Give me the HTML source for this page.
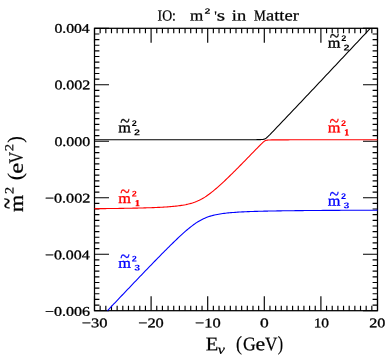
<!DOCTYPE html>
<html><head><meta charset="utf-8"><title>IO: m2's in Matter</title>
<style>html,body{margin:0;padding:0;background:#fff}#c{filter:blur(0.3px);position:relative;width:391px;height:358px;overflow:hidden;background:#fff}
#tx{position:absolute;left:0;top:0;width:391px;height:358px;will-change:transform}
.t{position:absolute;left:0;top:0;white-space:nowrap;line-height:1;transform-origin:0 0}</style>
</head><body><div id="c">
<svg width="391" height="358" viewBox="0 0 391 358" style="position:absolute;left:0;top:0">
<rect x="94.5" y="28.3" width="283.0" height="282.40" fill="none" stroke="#000" stroke-width="1.25"/>
<path d="M94.50 310.70V296.20M94.50 28.30V42.80M100.16 310.70V305.80M100.16 28.30V33.20M105.82 310.70V305.80M105.82 28.30V33.20M111.48 310.70V305.80M111.48 28.30V33.20M117.14 310.70V305.80M117.14 28.30V33.20M122.80 310.70V305.80M122.80 28.30V33.20M128.46 310.70V305.80M128.46 28.30V33.20M134.12 310.70V305.80M134.12 28.30V33.20M139.78 310.70V305.80M139.78 28.30V33.20M145.44 310.70V305.80M145.44 28.30V33.20M151.10 310.70V296.20M151.10 28.30V42.80M156.76 310.70V305.80M156.76 28.30V33.20M162.42 310.70V305.80M162.42 28.30V33.20M168.08 310.70V305.80M168.08 28.30V33.20M173.74 310.70V305.80M173.74 28.30V33.20M179.40 310.70V305.80M179.40 28.30V33.20M185.06 310.70V305.80M185.06 28.30V33.20M190.72 310.70V305.80M190.72 28.30V33.20M196.38 310.70V305.80M196.38 28.30V33.20M202.04 310.70V305.80M202.04 28.30V33.20M207.70 310.70V296.20M207.70 28.30V42.80M213.36 310.70V305.80M213.36 28.30V33.20M219.02 310.70V305.80M219.02 28.30V33.20M224.68 310.70V305.80M224.68 28.30V33.20M230.34 310.70V305.80M230.34 28.30V33.20M236.00 310.70V305.80M236.00 28.30V33.20M241.66 310.70V305.80M241.66 28.30V33.20M247.32 310.70V305.80M247.32 28.30V33.20M252.98 310.70V305.80M252.98 28.30V33.20M258.64 310.70V305.80M258.64 28.30V33.20M264.30 310.70V296.20M264.30 28.30V42.80M269.96 310.70V305.80M269.96 28.30V33.20M275.62 310.70V305.80M275.62 28.30V33.20M281.28 310.70V305.80M281.28 28.30V33.20M286.94 310.70V305.80M286.94 28.30V33.20M292.60 310.70V305.80M292.60 28.30V33.20M298.26 310.70V305.80M298.26 28.30V33.20M303.92 310.70V305.80M303.92 28.30V33.20M309.58 310.70V305.80M309.58 28.30V33.20M315.24 310.70V305.80M315.24 28.30V33.20M320.90 310.70V296.20M320.90 28.30V42.80M326.56 310.70V305.80M326.56 28.30V33.20M332.22 310.70V305.80M332.22 28.30V33.20M337.88 310.70V305.80M337.88 28.30V33.20M343.54 310.70V305.80M343.54 28.30V33.20M349.20 310.70V305.80M349.20 28.30V33.20M354.86 310.70V305.80M354.86 28.30V33.20M360.52 310.70V305.80M360.52 28.30V33.20M366.18 310.70V305.80M366.18 28.30V33.20M371.84 310.70V305.80M371.84 28.30V33.20M377.50 310.70V296.20M377.50 28.30V42.80M94.50 28.30H109.00M377.50 28.30H363.00M94.50 33.95H99.40M377.50 33.95H372.60M94.50 39.60H99.40M377.50 39.60H372.60M94.50 45.24H99.40M377.50 45.24H372.60M94.50 50.89H99.40M377.50 50.89H372.60M94.50 56.54H99.40M377.50 56.54H372.60M94.50 62.19H99.40M377.50 62.19H372.60M94.50 67.84H99.40M377.50 67.84H372.60M94.50 73.48H99.40M377.50 73.48H372.60M94.50 79.13H99.40M377.50 79.13H372.60M94.50 84.78H109.00M377.50 84.78H363.00M94.50 90.43H99.40M377.50 90.43H372.60M94.50 96.08H99.40M377.50 96.08H372.60M94.50 101.72H99.40M377.50 101.72H372.60M94.50 107.37H99.40M377.50 107.37H372.60M94.50 113.02H99.40M377.50 113.02H372.60M94.50 118.67H99.40M377.50 118.67H372.60M94.50 124.32H99.40M377.50 124.32H372.60M94.50 129.96H99.40M377.50 129.96H372.60M94.50 135.61H99.40M377.50 135.61H372.60M94.50 141.26H109.00M377.50 141.26H363.00M94.50 146.91H99.40M377.50 146.91H372.60M94.50 152.56H99.40M377.50 152.56H372.60M94.50 158.20H99.40M377.50 158.20H372.60M94.50 163.85H99.40M377.50 163.85H372.60M94.50 169.50H99.40M377.50 169.50H372.60M94.50 175.15H99.40M377.50 175.15H372.60M94.50 180.80H99.40M377.50 180.80H372.60M94.50 186.44H99.40M377.50 186.44H372.60M94.50 192.09H99.40M377.50 192.09H372.60M94.50 197.74H109.00M377.50 197.74H363.00M94.50 203.39H99.40M377.50 203.39H372.60M94.50 209.04H99.40M377.50 209.04H372.60M94.50 214.68H99.40M377.50 214.68H372.60M94.50 220.33H99.40M377.50 220.33H372.60M94.50 225.98H99.40M377.50 225.98H372.60M94.50 231.63H99.40M377.50 231.63H372.60M94.50 237.28H99.40M377.50 237.28H372.60M94.50 242.92H99.40M377.50 242.92H372.60M94.50 248.57H99.40M377.50 248.57H372.60M94.50 254.22H109.00M377.50 254.22H363.00M94.50 259.87H99.40M377.50 259.87H372.60M94.50 265.52H99.40M377.50 265.52H372.60M94.50 271.16H99.40M377.50 271.16H372.60M94.50 276.81H99.40M377.50 276.81H372.60M94.50 282.46H99.40M377.50 282.46H372.60M94.50 288.11H99.40M377.50 288.11H372.60M94.50 293.76H99.40M377.50 293.76H372.60M94.50 299.40H99.40M377.50 299.40H372.60M94.50 305.05H99.40M377.50 305.05H372.60M94.50 310.70H109.00M377.50 310.70H363.00" fill="none" stroke="#000" stroke-width="1.15"/>
<path d="M94.50 139.78 L95.88 139.78 L97.26 139.78 L98.64 139.78 L100.02 139.78 L101.40 139.78 L102.78 139.78 L104.16 139.78 L105.53 139.78 L106.91 139.78 L108.29 139.78 L109.67 139.78 L111.05 139.78 L112.43 139.78 L113.81 139.78 L115.19 139.78 L116.57 139.78 L117.95 139.78 L119.33 139.78 L120.71 139.78 L122.09 139.78 L123.47 139.78 L124.85 139.78 L126.22 139.78 L127.60 139.78 L128.98 139.78 L130.36 139.78 L131.74 139.78 L133.12 139.78 L134.50 139.78 L135.88 139.78 L137.26 139.78 L138.64 139.78 L140.02 139.78 L141.40 139.78 L142.78 139.78 L144.16 139.78 L145.54 139.78 L146.91 139.78 L148.29 139.78 L149.67 139.78 L151.05 139.78 L152.43 139.78 L153.81 139.78 L155.19 139.78 L156.57 139.78 L157.95 139.78 L159.33 139.78 L160.71 139.78 L162.09 139.78 L163.47 139.78 L164.85 139.78 L166.23 139.78 L167.60 139.78 L168.98 139.78 L170.36 139.78 L171.74 139.78 L173.12 139.78 L174.50 139.78 L175.88 139.78 L177.26 139.78 L178.64 139.78 L180.02 139.78 L181.40 139.78 L182.78 139.78 L184.16 139.78 L185.54 139.78 L186.91 139.78 L188.29 139.78 L189.67 139.78 L191.05 139.78 L192.43 139.78 L193.81 139.77 L195.19 139.77 L196.57 139.77 L197.95 139.77 L199.33 139.77 L200.71 139.77 L202.09 139.77 L203.47 139.77 L204.85 139.77 L206.23 139.77 L207.60 139.77 L208.98 139.77 L210.36 139.77 L211.74 139.77 L213.12 139.77 L214.50 139.77 L215.88 139.77 L217.26 139.77 L218.64 139.77 L220.02 139.77 L221.40 139.77 L222.78 139.77 L224.16 139.77 L225.54 139.76 L226.92 139.76 L228.29 139.76 L229.67 139.76 L231.05 139.76 L232.43 139.76 L233.81 139.76 L235.19 139.76 L236.57 139.76 L237.95 139.75 L239.33 139.75 L240.71 139.75 L242.09 139.75 L243.47 139.75 L244.85 139.74 L246.23 139.74 L247.61 139.74 L248.98 139.73 L250.36 139.73 L251.74 139.72 L253.12 139.71 L254.50 139.70 L255.88 139.69 L257.26 139.67 L258.64 139.65 L258.78 139.65 L258.92 139.64 L259.06 139.64 L259.21 139.64 L259.35 139.63 L259.49 139.63 L259.63 139.63 L259.77 139.62 L259.91 139.62 L260.05 139.61 L260.20 139.61 L260.34 139.60 L260.48 139.60 L260.62 139.59 L260.76 139.59 L260.90 139.58 L261.05 139.57 L261.19 139.57 L261.33 139.56 L261.47 139.55 L261.61 139.54 L261.75 139.53 L261.89 139.52 L262.04 139.51 L262.18 139.50 L262.32 139.49 L262.46 139.48 L262.60 139.46 L262.74 139.45 L262.88 139.43 L263.03 139.41 L263.17 139.39 L263.31 139.37 L263.45 139.35 L263.59 139.32 L263.73 139.29 L263.88 139.26 L264.02 139.22 L264.16 139.18 L264.30 139.14 L264.44 139.09 L264.58 139.04 L264.72 138.99 L264.87 138.92 L265.01 138.86 L265.15 138.78 L265.29 138.70 L265.43 138.62 L265.57 138.53 L265.72 138.43 L265.86 138.33 L266.00 138.23 L266.14 138.12 L266.28 138.01 L266.42 137.89 L266.56 137.78 L266.71 137.65 L266.85 137.53 L266.99 137.40 L267.13 137.28 L267.27 137.15 L267.41 137.02 L267.55 136.88 L267.70 136.75 L267.84 136.62 L267.98 136.48 L268.12 136.34 L268.26 136.21 L268.40 136.07 L268.54 135.93 L268.69 135.79 L268.83 135.65 L268.97 135.51 L269.11 135.37 L269.25 135.23 L269.39 135.08 L269.54 134.94 L269.68 134.80 L269.82 134.66 L269.96 134.51 L271.78 132.65 L273.61 130.76 L275.43 128.87 L277.25 126.97 L279.07 125.06 L280.90 123.15 L282.72 121.23 L284.54 119.32 L286.36 117.40 L288.19 115.48 L290.01 113.56 L291.83 111.64 L293.66 109.72 L295.48 107.79 L297.30 105.87 L299.12 103.94 L300.95 102.01 L302.77 100.09 L304.59 98.16 L306.41 96.23 L308.24 94.30 L310.06 92.37 L311.88 90.44 L313.71 88.51 L315.53 86.58 L317.35 84.64 L319.17 82.71 L321.00 80.78 L322.82 78.85 L324.64 76.91 L326.46 74.98 L328.29 73.04 L330.11 71.11 L331.93 69.17 L333.75 67.24 L335.58 65.30 L337.40 63.37 L339.22 61.43 L341.05 59.49 L342.87 57.56 L344.69 55.62 L346.51 53.68 L348.34 51.74 L350.16 49.81 L351.98 47.87 L353.80 45.93 L355.63 43.99 L357.45 42.05 L359.27 40.11 L361.10 38.18 L362.92 36.24 L364.74 34.30 L366.56 32.36 L368.39 30.42 L370.21 28.48 L370.38 28.30" fill="none" stroke="#000000" stroke-width="1.1" stroke-linejoin="round"/>
<path d="M94.50 208.68 L95.88 208.67 L97.26 208.66 L98.64 208.64 L100.02 208.63 L101.40 208.62 L102.78 208.60 L104.16 208.59 L105.53 208.58 L106.91 208.56 L108.29 208.55 L109.67 208.53 L111.05 208.51 L112.43 208.50 L113.81 208.48 L115.19 208.46 L116.57 208.44 L117.95 208.43 L119.33 208.41 L120.71 208.39 L122.09 208.37 L123.47 208.34 L124.85 208.32 L126.22 208.30 L127.60 208.28 L128.98 208.25 L130.36 208.23 L131.74 208.20 L133.12 208.17 L134.50 208.14 L135.88 208.11 L137.26 208.08 L138.64 208.05 L140.02 208.02 L141.40 207.98 L142.78 207.94 L144.16 207.91 L145.54 207.87 L146.91 207.82 L148.29 207.78 L149.67 207.73 L151.05 207.69 L152.43 207.64 L153.81 207.58 L155.19 207.53 L156.57 207.47 L157.95 207.40 L159.33 207.34 L160.71 207.27 L162.09 207.19 L163.47 207.12 L164.85 207.03 L166.23 206.94 L167.60 206.85 L168.98 206.75 L170.36 206.64 L171.74 206.52 L173.12 206.39 L174.50 206.26 L175.88 206.11 L177.26 205.95 L178.64 205.78 L180.02 205.60 L181.40 205.40 L182.78 205.18 L184.16 204.94 L185.54 204.68 L186.91 204.39 L188.29 204.08 L189.67 203.73 L191.05 203.35 L192.43 202.94 L193.81 202.48 L195.19 201.99 L196.57 201.44 L197.95 200.85 L199.33 200.21 L200.71 199.52 L202.09 198.77 L203.47 197.97 L204.85 197.12 L206.23 196.22 L207.60 195.28 L208.98 194.29 L210.36 193.25 L211.74 192.18 L213.12 191.07 L214.50 189.93 L215.88 188.77 L217.26 187.57 L218.64 186.35 L220.02 185.11 L221.40 183.85 L222.78 182.58 L224.16 181.28 L225.54 179.98 L226.92 178.66 L228.29 177.33 L229.67 175.99 L231.05 174.64 L232.43 173.28 L233.81 171.92 L235.19 170.54 L236.57 169.16 L237.95 167.78 L239.33 166.39 L240.71 165.00 L242.09 163.60 L243.47 162.20 L244.85 160.79 L246.23 159.39 L247.61 157.97 L248.98 156.56 L250.36 155.15 L251.74 153.73 L253.12 152.31 L254.50 150.89 L255.88 149.48 L257.26 148.06 L258.64 146.65 L258.78 146.51 L258.92 146.36 L259.06 146.22 L259.21 146.08 L259.35 145.93 L259.49 145.79 L259.63 145.64 L259.77 145.50 L259.91 145.36 L260.05 145.22 L260.20 145.07 L260.34 144.93 L260.48 144.79 L260.62 144.65 L260.76 144.51 L260.90 144.36 L261.05 144.22 L261.19 144.08 L261.33 143.94 L261.47 143.80 L261.61 143.66 L261.75 143.53 L261.89 143.39 L262.04 143.25 L262.18 143.11 L262.32 142.98 L262.46 142.84 L262.60 142.71 L262.74 142.58 L262.88 142.45 L263.03 142.32 L263.17 142.19 L263.31 142.07 L263.45 141.94 L263.59 141.82 L263.73 141.70 L263.88 141.59 L264.02 141.47 L264.16 141.36 L264.30 141.26 L264.44 141.16 L264.58 141.06 L264.72 140.97 L264.87 140.89 L265.01 140.81 L265.15 140.73 L265.29 140.66 L265.43 140.60 L265.57 140.54 L265.72 140.49 L265.86 140.44 L266.00 140.40 L266.14 140.36 L266.28 140.32 L266.42 140.29 L266.56 140.26 L266.71 140.23 L266.85 140.21 L266.99 140.19 L267.13 140.17 L267.27 140.15 L267.41 140.13 L267.55 140.12 L267.70 140.10 L267.84 140.09 L267.98 140.08 L268.12 140.06 L268.26 140.05 L268.40 140.04 L268.54 140.03 L268.69 140.03 L268.83 140.02 L268.97 140.01 L269.11 140.00 L269.25 140.00 L269.39 139.99 L269.54 139.98 L269.68 139.98 L269.82 139.97 L269.96 139.97 L271.78 139.92 L273.61 139.89 L275.43 139.88 L277.25 139.86 L279.07 139.85 L280.90 139.85 L282.72 139.84 L284.54 139.83 L286.36 139.83 L288.19 139.83 L290.01 139.82 L291.83 139.82 L293.66 139.82 L295.48 139.82 L297.30 139.82 L299.12 139.81 L300.95 139.81 L302.77 139.81 L304.59 139.81 L306.41 139.81 L308.24 139.81 L310.06 139.81 L311.88 139.81 L313.71 139.81 L315.53 139.81 L317.35 139.81 L319.17 139.80 L321.00 139.80 L322.82 139.80 L324.64 139.80 L326.46 139.80 L328.29 139.80 L330.11 139.80 L331.93 139.80 L333.75 139.80 L335.58 139.80 L337.40 139.80 L339.22 139.80 L341.05 139.80 L342.87 139.80 L344.69 139.80 L346.51 139.80 L348.34 139.80 L350.16 139.80 L351.98 139.80 L353.80 139.80 L355.63 139.80 L357.45 139.80 L359.27 139.80 L361.10 139.80 L362.92 139.80 L364.74 139.80 L366.56 139.80 L368.39 139.80 L370.21 139.80 L372.03 139.80 L373.85 139.80 L375.68 139.80 L377.50 139.80" fill="none" stroke="#ff0000" stroke-width="1.1" stroke-linejoin="round"/>
<path d="M107.44 310.70 L108.29 309.80 L109.67 308.34 L111.05 306.89 L112.43 305.43 L113.81 303.98 L115.19 302.52 L116.57 301.07 L117.95 299.61 L119.33 298.16 L120.71 296.71 L122.09 295.25 L123.47 293.80 L124.85 292.35 L126.22 290.90 L127.60 289.45 L128.98 288.01 L130.36 286.56 L131.74 285.11 L133.12 283.67 L134.50 282.22 L135.88 280.78 L137.26 279.34 L138.64 277.90 L140.02 276.46 L141.40 275.02 L142.78 273.59 L144.16 272.15 L145.54 270.72 L146.91 269.29 L148.29 267.86 L149.67 266.43 L151.05 265.01 L152.43 263.59 L153.81 262.17 L155.19 260.75 L156.57 259.34 L157.95 257.93 L159.33 256.52 L160.71 255.12 L162.09 253.72 L163.47 252.32 L164.85 250.94 L166.23 249.55 L167.60 248.18 L168.98 246.80 L170.36 245.44 L171.74 244.09 L173.12 242.74 L174.50 241.40 L175.88 240.07 L177.26 238.76 L178.64 237.46 L180.02 236.17 L181.40 234.90 L182.78 233.65 L184.16 232.41 L185.54 231.20 L186.91 230.02 L188.29 228.86 L189.67 227.73 L191.05 226.64 L192.43 225.58 L193.81 224.56 L195.19 223.58 L196.57 222.65 L197.95 221.77 L199.33 220.94 L200.71 220.16 L202.09 219.44 L203.47 218.76 L204.85 218.14 L206.23 217.57 L207.60 217.04 L208.98 216.56 L210.36 216.12 L211.74 215.72 L213.12 215.36 L214.50 215.02 L215.88 214.72 L217.26 214.44 L218.64 214.19 L220.02 213.96 L221.40 213.74 L222.78 213.55 L224.16 213.37 L225.54 213.20 L226.92 213.05 L228.29 212.91 L229.67 212.78 L231.05 212.65 L232.43 212.54 L233.81 212.43 L235.19 212.34 L236.57 212.24 L237.95 212.16 L239.33 212.07 L240.71 212.00 L242.09 211.92 L243.47 211.86 L244.85 211.79 L246.23 211.73 L247.61 211.67 L248.98 211.62 L250.36 211.56 L251.74 211.51 L253.12 211.47 L254.50 211.42 L255.88 211.38 L257.26 211.34 L258.64 211.30 L258.78 211.29 L258.92 211.29 L259.06 211.29 L259.21 211.28 L259.35 211.28 L259.49 211.28 L259.63 211.27 L259.77 211.27 L259.91 211.26 L260.05 211.26 L260.20 211.26 L260.34 211.25 L260.48 211.25 L260.62 211.24 L260.76 211.24 L260.90 211.24 L261.05 211.23 L261.19 211.23 L261.33 211.23 L261.47 211.22 L261.61 211.22 L261.75 211.22 L261.89 211.21 L262.04 211.21 L262.18 211.21 L262.32 211.20 L262.46 211.20 L262.60 211.19 L262.74 211.19 L262.88 211.19 L263.03 211.18 L263.17 211.18 L263.31 211.18 L263.45 211.17 L263.59 211.17 L263.73 211.17 L263.88 211.16 L264.02 211.16 L264.16 211.16 L264.30 211.15 L264.44 211.15 L264.58 211.15 L264.72 211.14 L264.87 211.14 L265.01 211.14 L265.15 211.13 L265.29 211.13 L265.43 211.13 L265.57 211.12 L265.72 211.12 L265.86 211.12 L266.00 211.12 L266.14 211.11 L266.28 211.11 L266.42 211.11 L266.56 211.10 L266.71 211.10 L266.85 211.10 L266.99 211.09 L267.13 211.09 L267.27 211.09 L267.41 211.08 L267.55 211.08 L267.70 211.08 L267.84 211.08 L267.98 211.07 L268.12 211.07 L268.26 211.07 L268.40 211.06 L268.54 211.06 L268.69 211.06 L268.83 211.05 L268.97 211.05 L269.11 211.05 L269.25 211.05 L269.39 211.04 L269.54 211.04 L269.68 211.04 L269.82 211.03 L269.96 211.03 L271.78 211.00 L273.61 210.96 L275.43 210.93 L277.25 210.90 L279.07 210.87 L280.90 210.84 L282.72 210.82 L284.54 210.79 L286.36 210.77 L288.19 210.74 L290.01 210.72 L291.83 210.70 L293.66 210.68 L295.48 210.66 L297.30 210.64 L299.12 210.62 L300.95 210.60 L302.77 210.58 L304.59 210.57 L306.41 210.55 L308.24 210.53 L310.06 210.52 L311.88 210.50 L313.71 210.49 L315.53 210.48 L317.35 210.46 L319.17 210.45 L321.00 210.44 L322.82 210.42 L324.64 210.41 L326.46 210.40 L328.29 210.39 L330.11 210.38 L331.93 210.37 L333.75 210.36 L335.58 210.35 L337.40 210.34 L339.22 210.33 L341.05 210.32 L342.87 210.31 L344.69 210.30 L346.51 210.29 L348.34 210.28 L350.16 210.28 L351.98 210.27 L353.80 210.26 L355.63 210.25 L357.45 210.25 L359.27 210.24 L361.10 210.23 L362.92 210.22 L364.74 210.22 L366.56 210.21 L368.39 210.20 L370.21 210.20 L372.03 210.19 L373.85 210.19 L375.68 210.18 L377.50 210.17" fill="none" stroke="#0000ff" stroke-width="1.1" stroke-linejoin="round"/>
</svg>
<div id="tx">
<div class="t" style='font-family:"Liberation Serif",serif;font-size:13.2px;color:#000000;transform:translate(54.40px,21.75px) rotate(0.05deg) scale(1.190,1);-webkit-text-stroke:0.3px #000000;'>0.004</div>
<div class="t" style='font-family:"Liberation Serif",serif;font-size:13.2px;color:#000000;transform:translate(54.39px,78.35px) rotate(0.05deg) scale(1.212,1);-webkit-text-stroke:0.3px #000000;'>0.002</div>
<div class="t" style='font-family:"Liberation Serif",serif;font-size:13.2px;color:#000000;transform:translate(54.40px,134.95px) rotate(0.05deg) scale(1.202,1);-webkit-text-stroke:0.3px #000000;'>0.000</div>
<div class="t" style='font-family:"Liberation Serif",serif;font-size:13.2px;color:#000000;transform:translate(44.89px,191.55px) rotate(0.05deg) scale(1.225,1);-webkit-text-stroke:0.3px #000000;'>−0.002</div>
<div class="t" style='font-family:"Liberation Serif",serif;font-size:13.2px;color:#000000;transform:translate(44.91px,248.15px) rotate(0.05deg) scale(1.207,1);-webkit-text-stroke:0.3px #000000;'>−0.004</div>
<div class="t" style='font-family:"Liberation Serif",serif;font-size:13.2px;color:#000000;transform:translate(44.90px,304.75px) rotate(0.05deg) scale(1.214,1);-webkit-text-stroke:0.3px #000000;'>−0.006</div>
<div class="t" style='font-family:"Liberation Serif",serif;font-size:13.2px;color:#000000;transform:translate(81.78px,316.20px) rotate(0.05deg) scale(1.252,1);-webkit-text-stroke:0.3px #000000;'>−30</div>
<div class="t" style='font-family:"Liberation Serif",serif;font-size:13.2px;color:#000000;transform:translate(138.18px,316.20px) rotate(0.05deg) scale(1.242,1);-webkit-text-stroke:0.3px #000000;'>−20</div>
<div class="t" style='font-family:"Liberation Serif",serif;font-size:13.2px;color:#000000;transform:translate(195.08px,316.20px) rotate(0.05deg) scale(1.247,1);-webkit-text-stroke:0.3px #000000;'>−10</div>
<div class="t" style='font-family:"Liberation Serif",serif;font-size:13.2px;color:#000000;transform:translate(260.04px,316.20px) rotate(0.05deg) scale(1.323,1);-webkit-text-stroke:0.3px #000000;'>0</div>
<div class="t" style='font-family:"Liberation Serif",serif;font-size:13.2px;color:#000000;transform:translate(313.64px,316.20px) rotate(0.05deg) scale(1.170,1);-webkit-text-stroke:0.3px #000000;'>10</div>
<div class="t" style='font-family:"Liberation Serif",serif;font-size:13.2px;color:#000000;transform:translate(369.19px,316.20px) rotate(0.05deg) scale(1.221,1);-webkit-text-stroke:0.3px #000000;'>20</div>
<div class="t" style='font-family:"Liberation Serif",serif;font-size:15.3px;color:#000000;transform:translate(157.60px,7.60px) rotate(0.05deg) scale(0.898,1);-webkit-text-stroke:0.25px #000000;'>IO:</div>
<div class="t" style='font-family:"Liberation Serif",serif;font-size:15.5px;color:#000000;transform:translate(189.94px,7.60px) rotate(0.05deg) scale(1.097,1);-webkit-text-stroke:0.25px #000000;'>m</div>
<div class="t" style='font-family:"Liberation Sans",sans-serif;font-size:7.88px;color:#000000;transform:translate(204.53px,7.80px) rotate(0.05deg) scale(1.344,1);font-weight:bold;'>2</div>
<div class="t" style='font-family:"Liberation Serif",serif;font-size:13.2px;color:#000000;transform:translate(214.19px,9.34px) rotate(0.05deg) scale(1.103,1);-webkit-text-stroke:0.2px #000000;'>'</div>
<div class="t" style='font-family:"Liberation Serif",serif;font-size:15.5px;color:#000000;transform:translate(216.82px,7.60px) rotate(0.05deg) scale(1.385,1);-webkit-text-stroke:0.25px #000000;'>s</div>
<div class="t" style='font-family:"Liberation Serif",serif;font-size:15.5px;color:#000000;transform:translate(231.81px,7.60px) rotate(0.05deg) scale(1.192,1);-webkit-text-stroke:0.25px #000000;'>in</div>
<div class="g"><div class="t" style='font-family:"Liberation Serif",serif;font-size:15.3px;color:#000000;transform:translate(253.92px,7.60px) rotate(0.05deg) scale(0.865,1);-webkit-text-stroke:0.25px #000000;'>M</div><div class="t" style='font-family:"Liberation Serif",serif;font-size:15.6px;color:#000000;transform:translate(265.95px,7.60px) rotate(0.05deg) scale(1.188,1);-webkit-text-stroke:0.25px #000000;'>atter</div></div>
<div class="t" style='font-family:"Liberation Serif",serif;font-size:19.2px;color:#000000;transform:translate(205.81px,334.30px) rotate(0.05deg) scale(1.067,1);-webkit-text-stroke:0.25px #000000;'>E</div>
<div class="t" style='font-family:"Liberation Serif",serif;font-size:13.23px;color:#000000;transform:translate(217.78px,342.67px) rotate(0.05deg) scale(1.212,1);font-style:italic;-webkit-text-stroke:0.2px #000000;'>ν</div>
<div class="g"><div class="t" style='font-family:"Liberation Serif",serif;font-size:20.4px;color:#000000;transform:translate(236.01px,333.16px) rotate(0.05deg) scale(0.878,1);-webkit-text-stroke:0.2px #000000;'>(</div><div class="t" style='font-family:"Liberation Serif",serif;font-size:19.2px;color:#000000;transform:translate(242.97px,334.30px) rotate(0.05deg) scale(0.922,1);-webkit-text-stroke:0.25px #000000;'>G</div><div class="t" style='font-family:"Liberation Serif",serif;font-size:19.2px;color:#000000;transform:translate(255.55px,334.30px) rotate(0.05deg) scale(1.140,1);-webkit-text-stroke:0.25px #000000;'>e</div><div class="t" style='font-family:"Liberation Serif",serif;font-size:19.2px;color:#000000;transform:translate(264.91px,334.30px) rotate(0.05deg) scale(0.893,1);-webkit-text-stroke:0.25px #000000;'>V</div><div class="t" style='font-family:"Liberation Serif",serif;font-size:20.4px;color:#000000;transform:translate(277.79px,333.16px) rotate(0.05deg) scale(0.783,1);-webkit-text-stroke:0.2px #000000;'>)</div></div>
<div class="t" style='font-family:"Liberation Serif",serif;font-size:19.74px;color:#000000;transform:translate(6.90px,211.96px) rotate(-89.95deg) scale(1.121,1);-webkit-text-stroke:0.25px #000000;'>m</div>
<div class="t" style='font-family:"Liberation Serif",serif;font-size:29.77px;color:#000000;transform:translate(-8.30px,208.87px) rotate(-89.95deg) scale(0.693,1);-webkit-text-stroke:0.3px #000000;'>~</div>
<div class="t" style='font-family:"Liberation Serif",serif;font-size:12.84px;color:#000000;transform:translate(3.50px,193.92px) rotate(-89.95deg) scale(1.107,1);-webkit-text-stroke:0.2px #000000;'>2</div>
<div class="t" style='font-family:"Liberation Serif",serif;font-size:20.84px;color:#000000;transform:translate(4.96px,180.36px) rotate(-89.95deg) scale(1.046,1);-webkit-text-stroke:0.2px #000000;'>(</div>
<div class="t" style='font-family:"Liberation Serif",serif;font-size:19.96px;color:#000000;transform:translate(6.71px,173.67px) rotate(-89.95deg) scale(1.245,1);-webkit-text-stroke:0.25px #000000;'>e</div>
<div class="t" style='font-family:"Liberation Serif",serif;font-size:20.0px;color:#000000;transform:translate(5.60px,163.48px) rotate(-89.95deg) scale(0.807,1);-webkit-text-stroke:0.25px #000000;'>V</div>
<div class="t" style='font-family:"Liberation Serif",serif;font-size:12.38px;color:#000000;transform:translate(3.20px,151.35px) rotate(-89.95deg) scale(1.189,1);-webkit-text-stroke:0.2px #000000;'>2</div>
<div class="t" style='font-family:"Liberation Serif",serif;font-size:20.84px;color:#000000;transform:translate(4.96px,142.64px) rotate(-89.95deg) scale(0.953,1);-webkit-text-stroke:0.2px #000000;'>)</div>
<div class="t" style='font-family:"Liberation Serif",serif;font-size:14.64px;color:#000000;transform:translate(327.86px,35.40px) rotate(0.05deg) scale(1.115,1);-webkit-text-stroke:0.3px #000000;'>m</div>
<div class="t" style='font-family:"Liberation Serif",serif;font-size:21.43px;color:#000000;transform:translate(329.81px,25.85px) rotate(0.05deg) scale(0.819,1);-webkit-text-stroke:0.3px #000000;'>~</div>
<div class="t" style='font-family:"Liberation Sans",sans-serif;font-size:8.31px;color:#000000;transform:translate(341.18px,34.10px) rotate(0.05deg) scale(1.100,1);font-weight:bold;'>2</div>
<div class="t" style='font-family:"Liberation Sans",sans-serif;font-size:8.45px;color:#000000;transform:translate(343.63px,43.40px) rotate(0.05deg) scale(1.278,1);font-weight:bold;'>2</div>
<div class="t" style='font-family:"Liberation Serif",serif;font-size:14.64px;color:#000000;transform:translate(118.36px,120.30px) rotate(0.05deg) scale(1.115,1);-webkit-text-stroke:0.3px #000000;'>m</div>
<div class="t" style='font-family:"Liberation Serif",serif;font-size:21.43px;color:#000000;transform:translate(120.31px,110.75px) rotate(0.05deg) scale(0.819,1);-webkit-text-stroke:0.3px #000000;'>~</div>
<div class="t" style='font-family:"Liberation Sans",sans-serif;font-size:8.31px;color:#000000;transform:translate(131.68px,119.00px) rotate(0.05deg) scale(1.100,1);font-weight:bold;'>2</div>
<div class="t" style='font-family:"Liberation Sans",sans-serif;font-size:8.45px;color:#000000;transform:translate(134.13px,128.30px) rotate(0.05deg) scale(1.278,1);font-weight:bold;'>2</div>
<div class="t" style='font-family:"Liberation Serif",serif;font-size:14.64px;color:#ff0000;transform:translate(327.66px,120.30px) rotate(0.05deg) scale(1.115,1);-webkit-text-stroke:0.3px #ff0000;'>m</div>
<div class="t" style='font-family:"Liberation Serif",serif;font-size:21.43px;color:#ff0000;transform:translate(329.61px,110.75px) rotate(0.05deg) scale(0.819,1);-webkit-text-stroke:0.3px #ff0000;'>~</div>
<div class="t" style='font-family:"Liberation Sans",sans-serif;font-size:8.31px;color:#ff0000;transform:translate(340.98px,119.00px) rotate(0.05deg) scale(1.100,1);font-weight:bold;'>2</div>
<div class="t" style='font-family:"Liberation Serif",serif;font-size:8.94px;color:#ff0000;transform:translate(344.22px,128.30px) rotate(0.05deg) scale(1.094,1);font-weight:bold;-webkit-text-stroke:0.3px #ff0000;'>1</div>
<div class="t" style='font-family:"Liberation Serif",serif;font-size:14.64px;color:#ff0000;transform:translate(118.36px,190.90px) rotate(0.05deg) scale(1.115,1);-webkit-text-stroke:0.3px #ff0000;'>m</div>
<div class="t" style='font-family:"Liberation Serif",serif;font-size:21.43px;color:#ff0000;transform:translate(120.31px,181.35px) rotate(0.05deg) scale(0.819,1);-webkit-text-stroke:0.3px #ff0000;'>~</div>
<div class="t" style='font-family:"Liberation Sans",sans-serif;font-size:8.31px;color:#ff0000;transform:translate(131.68px,189.60px) rotate(0.05deg) scale(1.100,1);font-weight:bold;'>2</div>
<div class="t" style='font-family:"Liberation Serif",serif;font-size:8.94px;color:#ff0000;transform:translate(134.92px,198.90px) rotate(0.05deg) scale(1.094,1);font-weight:bold;-webkit-text-stroke:0.3px #ff0000;'>1</div>
<div class="t" style='font-family:"Liberation Serif",serif;font-size:14.64px;color:#0000ff;transform:translate(327.66px,193.40px) rotate(0.05deg) scale(1.115,1);-webkit-text-stroke:0.3px #0000ff;'>m</div>
<div class="t" style='font-family:"Liberation Serif",serif;font-size:21.43px;color:#0000ff;transform:translate(329.61px,183.85px) rotate(0.05deg) scale(0.819,1);-webkit-text-stroke:0.3px #0000ff;'>~</div>
<div class="t" style='font-family:"Liberation Sans",sans-serif;font-size:8.31px;color:#0000ff;transform:translate(340.98px,192.10px) rotate(0.05deg) scale(1.100,1);font-weight:bold;'>2</div>
<div class="t" style='font-family:"Liberation Sans",sans-serif;font-size:8.32px;color:#0000ff;transform:translate(343.56px,201.31px) rotate(0.05deg) scale(1.257,1);font-weight:bold;'>3</div>
<div class="t" style='font-family:"Liberation Serif",serif;font-size:14.64px;color:#0000ff;transform:translate(118.36px,255.70px) rotate(0.05deg) scale(1.115,1);-webkit-text-stroke:0.3px #0000ff;'>m</div>
<div class="t" style='font-family:"Liberation Serif",serif;font-size:21.43px;color:#0000ff;transform:translate(120.31px,246.15px) rotate(0.05deg) scale(0.819,1);-webkit-text-stroke:0.3px #0000ff;'>~</div>
<div class="t" style='font-family:"Liberation Sans",sans-serif;font-size:8.31px;color:#0000ff;transform:translate(131.68px,254.40px) rotate(0.05deg) scale(1.100,1);font-weight:bold;'>2</div>
<div class="t" style='font-family:"Liberation Sans",sans-serif;font-size:8.32px;color:#0000ff;transform:translate(134.26px,263.61px) rotate(0.05deg) scale(1.257,1);font-weight:bold;'>3</div>
</div>
</div></body></html>
